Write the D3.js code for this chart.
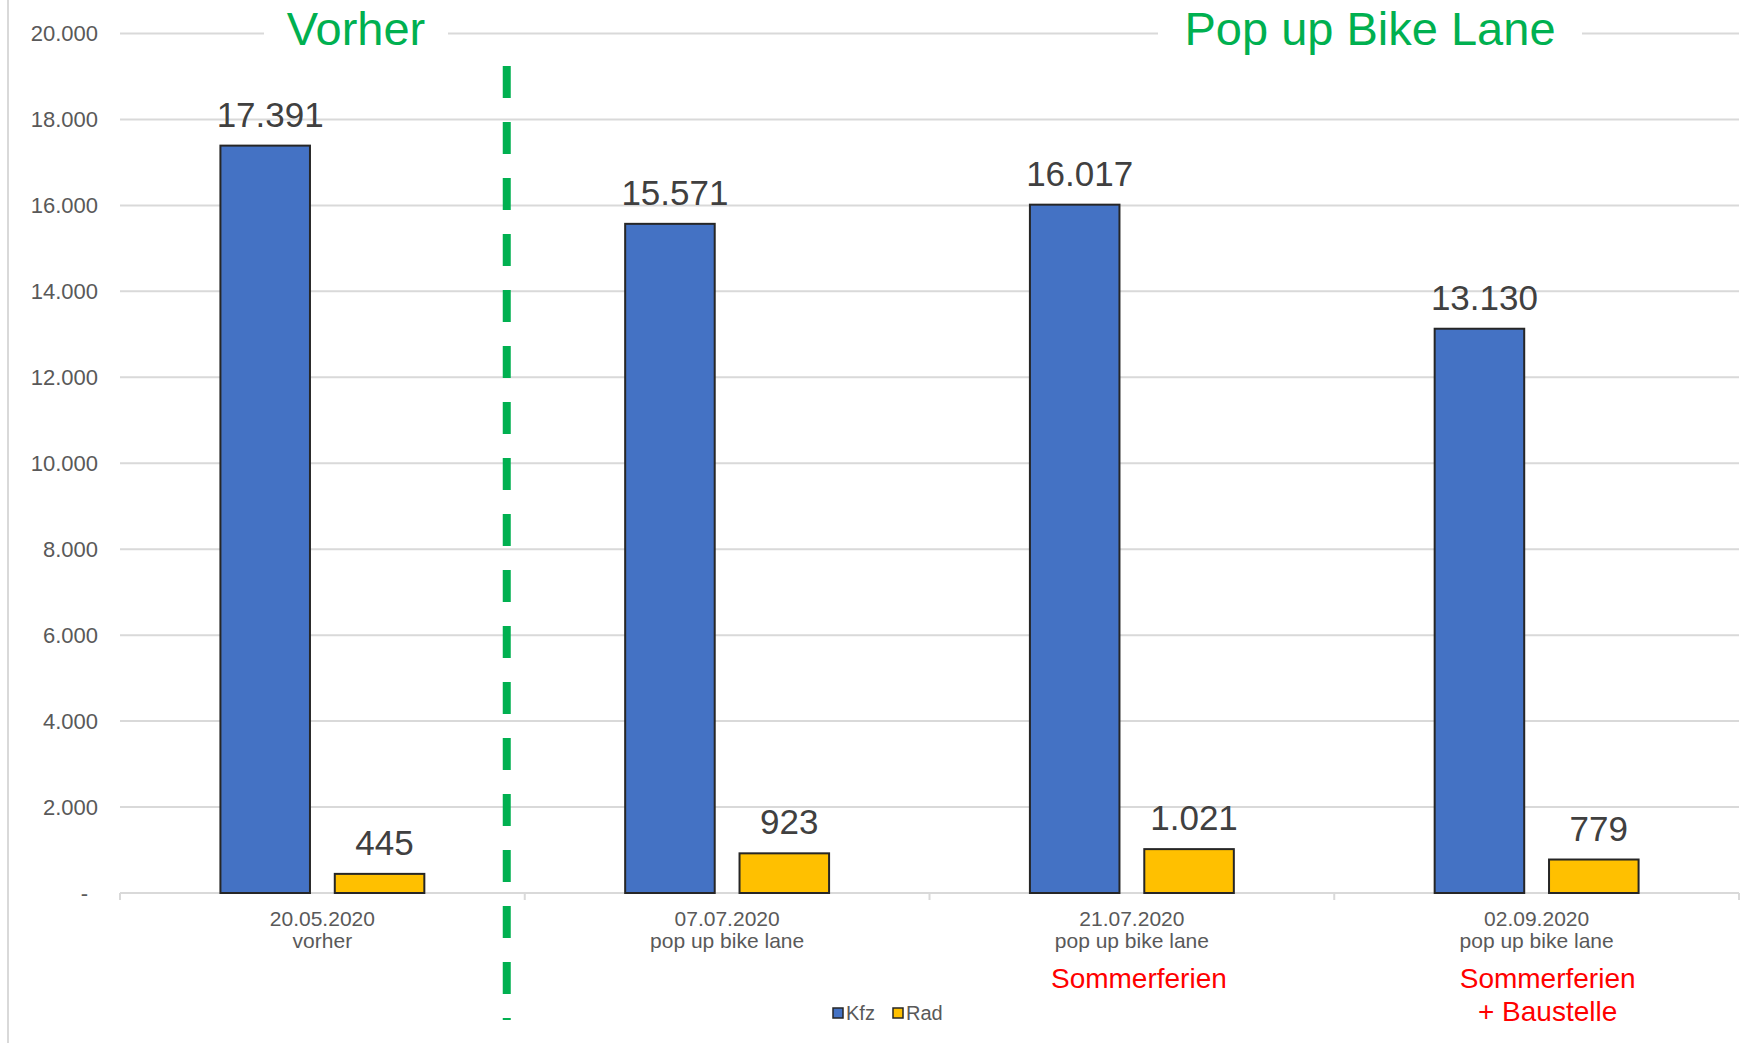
<!DOCTYPE html>
<html>
<head>
<meta charset="utf-8">
<script src="https://cdn.jsdelivr.net/npm/d3@7"></script>
<style>
  html, body { margin: 0; padding: 0; background: #fff; }
  svg { display: block; font-family: "Liberation Sans", Arial, sans-serif; }
</style>
</head>
<body>
<svg id="chart" width="1762" height="1043"></svg>
<script>
// ---- data ----
const categories = ["20.05.2020", "07.07.2020", "21.07.2020", "02.09.2020"];
const categorySub = ["vorher", "pop up bike lane", "pop up bike lane", "pop up bike lane"];
const seriesNames = ["Kfz", "Rad"];
const kfzValues = [17391, 15571, 16017, 13130];
const radValues = [445, 923, 1021, 779];
const yTicks = [0, 2000, 4000, 6000, 8000, 10000, 12000, 14000, 16000, 18000, 20000];
const annotations = [[], [], ["Sommerferien"], ["Sommerferien", "+ Baustelle"]];
const sectionLabels = ["Vorher", "Pop up Bike Lane"];

// ---- layout ----
const W = 1762, H = 1043;
const plot = { left: 120, right: 1739, top: 33.5, bottom: 893 };
const colors = { Kfz: "#4472C4", Rad: "#FFC000" };
const svg = d3.select("#chart");

const de = d3.formatLocale({ decimal: ",", thousands: ".", grouping: [3], currency: ["", "€"] });
const fmt = de.format(",d");

const x0 = d3.scaleBand().domain(categories).range([plot.left, plot.right]).padding(0);
const x1 = d3.scaleBand().domain(seriesNames).range([0, x0.bandwidth()])
  .paddingInner(0.217).paddingOuter(0.878);
const y = d3.scaleLinear().domain([0, 20000]).range([plot.bottom, plot.top]);

// frame line on left
svg.append("line").attr("x1", 8).attr("x2", 8).attr("y1", 0).attr("y2", H)
  .attr("stroke", "#d9d9d9").attr("stroke-width", 2);

// gridlines
svg.append("g").selectAll("line").data(yTicks.filter(d => d > 0)).join("line")
  .attr("x1", plot.left).attr("x2", plot.right)
  .attr("y1", d => y(d)).attr("y2", d => y(d))
  .attr("stroke", "#d9d9d9").attr("stroke-width", 2);

// y labels
const yAxis = d3.axisLeft(y).tickValues(yTicks).tickSize(0).tickPadding(0)
  .tickFormat(d => d === 0 ? "-" : fmt(d));
const gy = svg.append("g").attr("transform", `translate(98,0)`).call(yAxis);
gy.select(".domain").remove();
gy.selectAll("text").attr("fill", "#595959").attr("font-size", 22)
  .attr("font-family", "'Liberation Sans', Arial, sans-serif");
gy.selectAll(".tick").filter(d => d === 0).select("text").attr("dx", -10);

// x axis line and tick marks at band boundaries
svg.append("line").attr("x1", plot.left).attr("x2", plot.right)
  .attr("y1", y(0)).attr("y2", y(0)).attr("stroke", "#d9d9d9").attr("stroke-width", 2);
const bounds = categories.map(c => x0(c)).concat([plot.right]);
svg.append("g").selectAll("line").data(bounds).join("line")
  .attr("x1", d => d).attr("x2", d => d).attr("y1", y(0)).attr("y2", y(0) + 7)
  .attr("stroke", "#d9d9d9").attr("stroke-width", 2);

// bars
const rows = categories.map((c, i) => ({ cat: c, vals: [
  { s: "Kfz", v: kfzValues[i] }, { s: "Rad", v: radValues[i] } ] }));
const groups = svg.append("g").selectAll("g").data(rows).join("g")
  .attr("transform", d => `translate(${x0(d.cat)},0)`);
groups.selectAll("rect").data(d => d.vals).join("rect")
  .attr("x", d => x1(d.s)).attr("width", x1.bandwidth())
  .attr("y", d => y(d.v)).attr("height", d => y(0) - y(d.v))
  .attr("fill", d => colors[d.s]).attr("stroke", "#262626").attr("stroke-width", 2);
groups.selectAll("text.val").data(d => d.vals).join("text").attr("class", "val")
  .attr("x", d => x1(d.s) + x1.bandwidth() / 2 + 5).attr("y", d => y(d.v) - 19)
  .attr("text-anchor", "middle").attr("font-size", 35).attr("fill", "#404040")
  .text(d => fmt(d.v));

// category labels
const cx = c => x0(c) + x0.bandwidth() / 2;
svg.append("g").selectAll("text").data(categories).join("text")
  .attr("x", d => cx(d)).attr("y", 926).attr("text-anchor", "middle")
  .attr("font-size", 21).attr("fill", "#595959").text(d => d);
svg.append("g").selectAll("text").data(categories).join("text")
  .attr("x", d => cx(d)).attr("y", 948).attr("text-anchor", "middle")
  .attr("font-size", 21).attr("fill", "#595959").text((d, i) => categorySub[i]);

// red annotations
const annotDx = [0, 0, 7, 11];
categories.forEach((c, i) => {
  annotations[i].forEach((line, j) => {
    svg.append("text").attr("x", cx(c) + annotDx[i]).attr("y", 988 + j * 33)
      .attr("text-anchor", "middle").attr("font-size", 28).attr("fill", "#FF0000").text(line);
  });
});

// dashed separator
const sepX = (x0(categories[0]) + x0.bandwidth() + x0(categories[1])) / 2 - 18;
svg.append("line").attr("x1", sepX).attr("x2", sepX).attr("y1", 66).attr("y2", 1020)
  .attr("stroke", "#00B050").attr("stroke-width", 8).attr("stroke-dasharray", "32,24");

// section headers with white backgrounds over the top gridline
const headers = [
  { t: sectionLabels[0], cx: 356, gap: [264, 448] },
  { t: sectionLabels[1], cx: 1370, gap: [1158, 1582] }
];
headers.forEach(h => {
  svg.append("rect").attr("x", h.gap[0]).attr("y", y(20000) - 6)
    .attr("width", h.gap[1] - h.gap[0]).attr("height", 12).attr("fill", "#fff");
  svg.append("text").attr("x", h.cx).attr("y", 45).attr("text-anchor", "middle")
    .attr("font-size", 47).attr("fill", "#00B050").text(h.t);
});

// legend
const legend = svg.append("g");
const legendX = [833, 893];
seriesNames.forEach((s, i) => {
  legend.append("rect").attr("x", legendX[i]).attr("y", 1008).attr("width", 10).attr("height", 10)
    .attr("fill", colors[s]).attr("stroke", "#262626").attr("stroke-width", 1.5);
  legend.append("text").attr("x", legendX[i] + 13).attr("y", 1020)
    .attr("font-size", 20).attr("fill", "#595959").text(s);
});
</script>
</body>
</html>
